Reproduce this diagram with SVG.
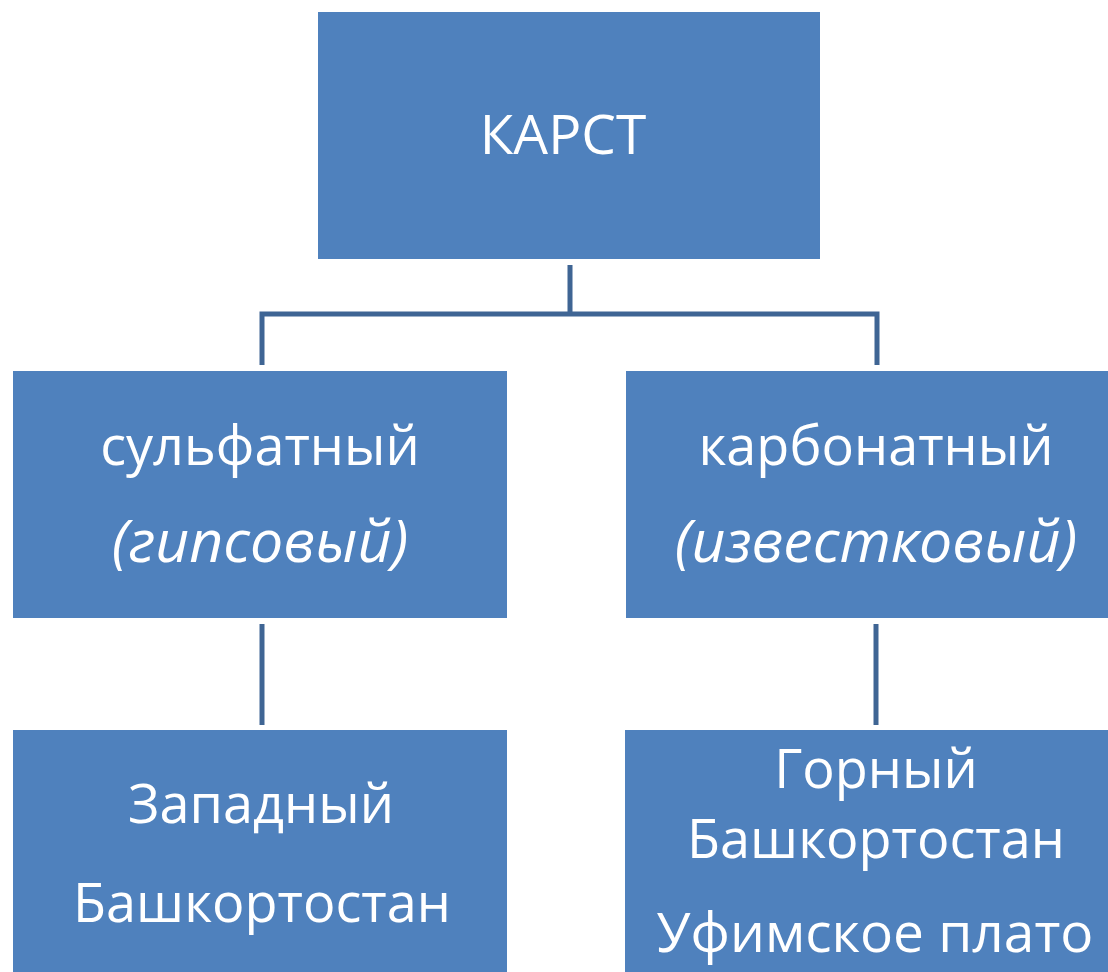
<svg xmlns="http://www.w3.org/2000/svg" width="1108" height="972" viewBox="0 0 1108 972">
<style>
.box{fill:#4F81BD;}
.t{fill:#FFFFFF;font-family:"Open Sans","Noto Sans","Liberation Sans",sans-serif;font-size:54px;text-anchor:middle;}
.i{font-style:italic;font-size:59px;}
.c{stroke:#3F6594;stroke-width:5;fill:none;}
</style>
<rect width="1108" height="972" fill="#FFFFFF"/>
<g id="connectors">
<path class="c" d="M570,265 V314 M262,365 V314 H877 V365"/>
<path class="c" d="M262,624 V725"/>
<path class="c" d="M876,624 V725"/>
</g>
<g id="karst">
<rect class="box" x="318" y="12" width="502" height="247"/>
<text class="t" x="563" y="154" style="font-size:55px">КАРСТ</text>
</g>
<g id="sulfate">
<rect class="box" x="13" y="371" width="494" height="247"/>
<text class="t" x="260" y="465">сульфатный</text>
<text class="t i" x="260" y="562">(гипсовый)</text>
</g>
<g id="carbonate">
<rect class="box" x="626" y="371" width="482" height="247"/>
<text class="t" x="876" y="465">карбонатный</text>
<text class="t i" x="876" y="562">(известковый)</text>
</g>
<g id="west">
<rect class="box" x="13" y="730" width="494" height="242"/>
<text class="t" x="261" y="823">Западный</text>
<text class="t" x="262" y="922">Башкортостан</text>
</g>
<g id="mountain">
<rect class="box" x="625" y="730" width="483" height="242"/>
<text class="t" x="876" y="788">Горный</text>
<text class="t" x="876" y="858">Башкортостан</text>
<text class="t" x="875" y="952" style="font-size:55px">Уфимское плато</text>
</g>
</svg>
